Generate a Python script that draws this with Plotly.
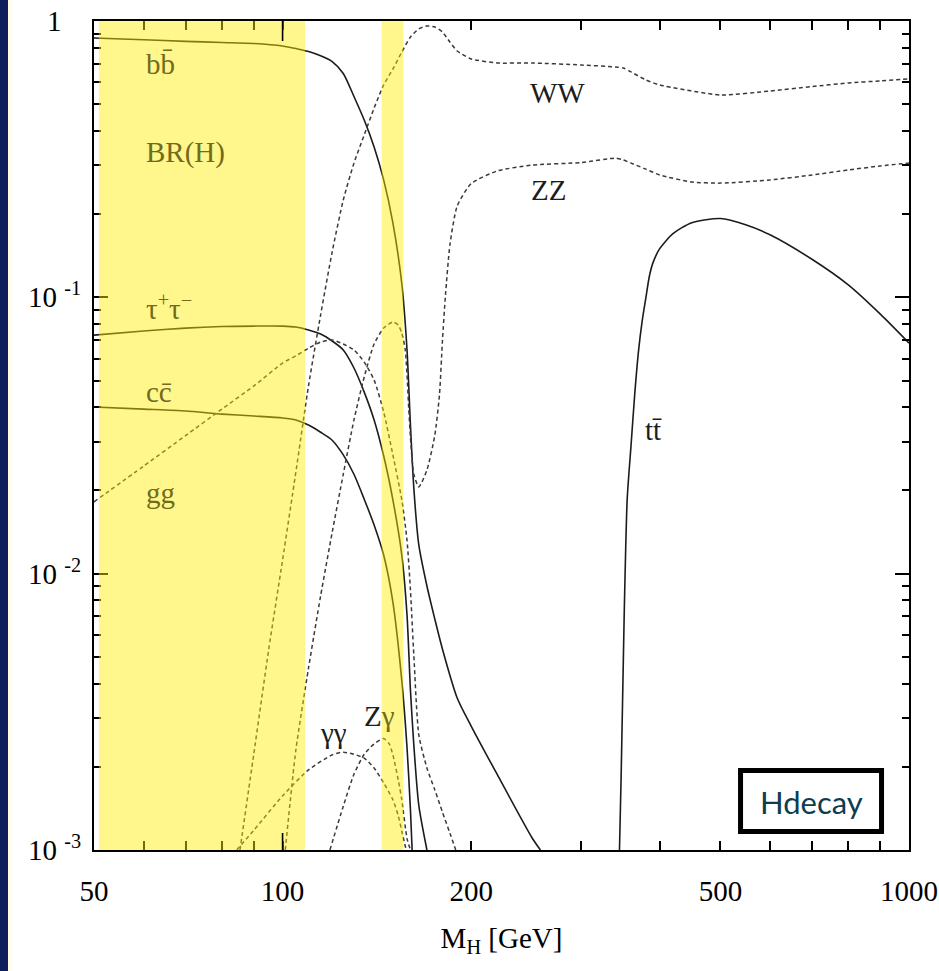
import numpy as np
import plotly.graph_objects as go

# ---------------- SM Higgs branching ratios vs. Higgs mass M_H [GeV] ----------------
m_bb = [50, 60, 70, 80, 90, 100, 105, 110, 115, 120, 125, 130, 135, 140, 145, 150, 155,
        158, 160, 162, 165, 170, 175, 180, 190, 200, 220, 250, 258]
br_bb = [0.868, 0.855, 0.844, 0.836, 0.829, 0.812, 0.795, 0.775, 0.748, 0.713, 0.646, 0.533,
         0.438, 0.350, 0.266, 0.186, 0.112, 0.0645, 0.0345, 0.0204, 0.0127, 0.00902, 0.00685,
         0.00533, 0.00355, 0.00281, 0.00188, 0.00111, 0.00100]

m_tautau = [50, 60, 70, 80, 90, 100, 105, 110, 115, 120, 125, 130, 135, 140, 145, 150, 155,
            158, 160, 162, 165, 170]
br_tautau = [0.0730, 0.0755, 0.0774, 0.0784, 0.0787, 0.0787, 0.0781, 0.0762, 0.0737, 0.0695,
             0.0645, 0.0555, 0.0454, 0.0360, 0.0267, 0.0185, 0.01168, 0.00708, 0.00379,
             0.00240, 0.00145, 0.00100]

m_cc = [50, 60, 70, 80, 90, 100, 105, 110, 115, 120, 125, 130, 135, 140, 145, 150, 155,
        158, 160, 161]
br_cc = [0.0401, 0.0394, 0.0388, 0.0378, 0.0372, 0.0366, 0.0360, 0.0345, 0.0325, 0.0304,
         0.0269, 0.0229, 0.0186, 0.0150, 0.01168, 0.00789, 0.0041, 0.00235, 0.00140, 0.00100]

m_gg = [50, 60, 70, 80, 90, 100, 105, 110, 115, 120, 125, 130, 135, 140, 145, 150, 155,
        158, 160, 162, 165, 170, 175, 180, 185, 189]
br_gg = [0.0182, 0.0245, 0.0316, 0.0394, 0.0478, 0.0578, 0.0614, 0.0655, 0.0689, 0.0701,
         0.0678, 0.0645, 0.0583, 0.0502, 0.0385, 0.0269, 0.0185, 0.0132, 0.00873, 0.00507,
         0.00261, 0.00198, 0.00165, 0.00137, 0.00115, 0.00100]

m_gamgam = [84.5, 90, 100, 110, 120, 125, 130, 135, 140, 145, 150, 153, 155, 157.5]
br_gamgam = [0.00100, 0.00118, 0.00157, 0.00195, 0.00221, 0.00226, 0.00222, 0.00215, 0.00198,
             0.00175, 0.00152, 0.00133, 0.00117, 0.00100]

m_zgam = [119, 125, 130, 135, 140, 145, 148, 150, 153, 155, 158, 160]
br_zgam = [0.00100, 0.00144, 0.00188, 0.00222, 0.00242, 0.00253, 0.00242, 0.00221, 0.00179,
           0.00152, 0.00110, 0.00100]

m_ww = [85.5, 90, 95, 100, 105, 110, 115, 120, 125, 130, 135, 140, 145, 150, 155, 160, 165,
        170, 175, 180, 185, 190, 200, 220, 250, 300, 340, 350, 360, 380, 400, 500, 600, 700,
        800, 900, 1000]
br_ww = [0.00100, 0.00224, 0.00529, 0.0112, 0.0233, 0.0478, 0.0863, 0.146, 0.225, 0.306,
         0.387, 0.484, 0.587, 0.670, 0.772, 0.875, 0.936, 0.959, 0.951, 0.912, 0.839, 0.779,
         0.729, 0.705, 0.705, 0.693, 0.682, 0.676, 0.654, 0.612, 0.587, 0.540, 0.558, 0.579,
         0.597, 0.607, 0.617]

m_zz = [101, 105, 110, 115, 120, 125, 130, 135, 140, 145, 150, 153, 155, 157, 159, 160, 162,
        165, 170, 175, 178, 180, 182, 185, 190, 200, 220, 250, 300, 340, 350, 360, 380, 400,
        450, 500, 600, 700, 800, 900, 1000]
br_zz = [0.00100, 0.00230, 0.00455, 0.0083, 0.0141, 0.0229, 0.0360, 0.0515, 0.0678, 0.0774,
         0.0814, 0.0794, 0.0742, 0.0645, 0.0398, 0.0312, 0.0229, 0.0206, 0.0237, 0.0317,
         0.0443, 0.0700, 0.102, 0.155, 0.214, 0.258, 0.2865, 0.301, 0.3075, 0.319, 0.314,
         0.306, 0.291, 0.277, 0.2615, 0.259, 0.266, 0.277, 0.289, 0.299, 0.306]

m_tt = [345, 347, 349, 351, 353, 355, 360, 365, 370, 375, 380, 385, 390, 400, 420, 450, 500,
        550, 600, 700, 800, 900, 1000]
br_tt = [0.00100, 0.00179, 0.00352, 0.00702, 0.0124, 0.0188, 0.0292, 0.0450, 0.0639, 0.0820,
         0.0991, 0.119, 0.1330, 0.1500, 0.170, 0.1862, 0.1928, 0.1827, 0.1684, 0.1373, 0.1109,
         0.0869, 0.0683]

# mass windows highlighted in yellow
bands = [(50.9, 108.6), (143.9, 155.8)]

# axis ticks (the label "1" at the top decade is set separately, centred under the others)
x_tick_vals = [50, 100, 200, 500, 1000]
x_tick_text = ["50", "100", "200", "500", "1000"]
x_minor_vals = [60, 70, 80, 90, 300, 400, 600, 700, 800, 900]
y_tick_vals = [1e-3, 1e-2, 1e-1, 1]
y_tick_text = ["10\u00a0<sup>-3</sup>", "10\u00a0<sup>-2</sup>", "10\u00a0<sup>-1</sup>", ""]
y_top_label = "1"
y_minor_vals = [k * 10.0 ** e for e in (-3, -2, -1) for k in range(2, 10)]

SERIF = "Liberation Serif, Times New Roman, serif"
OLIVE = "#716b1c"
INK = "#1c1c1c"

channels = [
    ("bb", m_bb, br_bb, "solid"),
    ("tautau", m_tautau, br_tautau, "solid"),
    ("cc", m_cc, br_cc, "solid"),
    ("tt", m_tt, br_tt, "solid"),
    ("gg", m_gg, br_gg, "dashed"),
    ("gamgam", m_gamgam, br_gamgam, "dashed"),
    ("Zgam", m_zgam, br_zgam, "dashed"),
    ("WW", m_ww, br_ww, "dashed"),
    ("ZZ", m_zz, br_zz, "dashed"),
]

fig = go.Figure()
for name, m, br, style in channels:
    if style == "solid":
        line = dict(color=INK, width=1.6, shape="spline", smoothing=0.7)
    else:
        line = dict(color="#3a3a3a", width=1.5, dash="4px,3px", shape="spline", smoothing=0.6)
    fig.add_trace(go.Scatter(x=m, y=br, mode="lines", name=name, line=line,
                             showlegend=False, hoverinfo="skip"))

shapes = []
# yellow mass windows, drawn as a translucent overlay
for lo, hi in bands:
    shapes.append(dict(type="rect", xref="x", yref="paper", x0=lo, x1=hi,
                       y0=0, y1=1, fillcolor="rgba(255,237,0,0.45)", line=dict(width=0),
                       layer="above"))
# longer decade tick at 100 GeV (bottom and top)
for y0, y1 in [(0, 17 / 829), (1 - 20 / 829, 1)]:
    shapes.append(dict(type="line", xref="x", yref="paper", x0=100, x1=100, y0=y0, y1=y1,
                       line=dict(color="black", width=1.6), layer="above"))
# navy page stripe on the left edge
shapes.append(dict(type="rect", xref="paper", yref="paper", x0=-94 / 815, x1=-86 / 815,
                   y0=-121 / 829, y1=850 / 829, fillcolor="#0c1e5c", line=dict(width=0),
                   layer="below"))
shapes.append(dict(type="rect", xref="paper", yref="paper", x0=-86 / 815, x1=-83 / 815,
                   y0=-121 / 829, y1=850 / 829, fillcolor="#fffbe4", line=dict(width=0),
                   layer="below"))
# program label box
shapes.append(dict(type="rect", xref="paper", yref="paper", x0=0.7933, x1=0.9663,
                   y0=0.0223, y1=0.0959, fillcolor="white", line=dict(color="black", width=5),
                   layer="above"))

# channel labels: (text, M_H, BR, colour, anchor)
labels = [
    ("bb\u0304", 60, 0.70, OLIVE, "left"),
    ("BR(H)", 60, 0.335, OLIVE, "left"),
    ("\u03c4<sup>+</sup>\u03c4<sup>\u2212</sup>", 60, 0.092, OLIVE, "left"),
    ("cc\u0304", 60, 0.0454, OLIVE, "left"),
    ("gg", 60, 0.0196, OLIVE, "left"),
    ("WW", 275.2, 0.549, INK, "center"),
    ("ZZ", 266.2, 0.2445, INK, "center"),
    ("tt\u0304", 390.3, 0.0331, INK, "center"),
    ("\u03b3\u03b3", 120.4, 0.00265, INK, "center"),
    ("Z<span style='color:%s'>\u03b3</span>" % OLIVE, 142.6, 0.00305, INK, "center"),
]
annotations = []
for text, m, br, col, anchor in labels:
    annotations.append(dict(text=text, x=np.log10(m), y=np.log10(br), xref="x", yref="y",
                            xanchor=anchor, yanchor="middle", showarrow=False,
                            font=dict(family=SERIF, size=29, color=col)))
annotations.append(dict(text="Hdecay", x=0.8798, y=0.0579, xref="paper", yref="paper",
                        xanchor="center", yanchor="middle", showarrow=False,
                        font=dict(family="Lato, Open Sans, sans-serif", size=31,
                                  color="#0e3d4f")))
# top-decade tick label
annotations.append(dict(text=y_top_label, x=-40 / 815, y=np.log10(1), xref="paper", yref="y",
                        xanchor="center", yanchor="middle", showarrow=False,
                        font=dict(family=SERIF, size=29, color="black")))

axis_common = dict(type="log", showline=True, linecolor="black", linewidth=2,
                   mirror="allticks", ticks="inside", tickcolor="black", tickwidth=1.6,
                   showgrid=False, zeroline=False,
                   tickfont=dict(family=SERIF, size=29, color="black"))

fig.update_layout(
    width=939, height=971,
    margin=dict(l=94, r=30, t=21, b=121, autoexpand=False),
    paper_bgcolor="white", plot_bgcolor="white",
    shapes=shapes, annotations=annotations,
    xaxis=dict(axis_common, range=[np.log10(50), 3], tickmode="array", tickvals=x_tick_vals,
               ticktext=x_tick_text, ticklen=9, ticklabelstandoff=14,
               minor=dict(ticks="inside", ticklen=9, tickwidth=1.6, tickcolor="black",
                          tickmode="array", tickvals=x_minor_vals, showgrid=False),
               title=dict(text="M<sub>H</sub> [GeV]", standoff=22,
                          font=dict(family=SERIF, size=29, color="black"))),
    yaxis=dict(axis_common, range=[-3, 0], tickmode="array", tickvals=y_tick_vals,
               ticktext=y_tick_text, ticklen=14, ticklabelstandoff=5,
               minor=dict(ticks="inside", ticklen=7, tickwidth=1.6, tickcolor="black",
                          tickmode="array", tickvals=y_minor_vals, showgrid=False)),
)

fig.write_html("out.html")
